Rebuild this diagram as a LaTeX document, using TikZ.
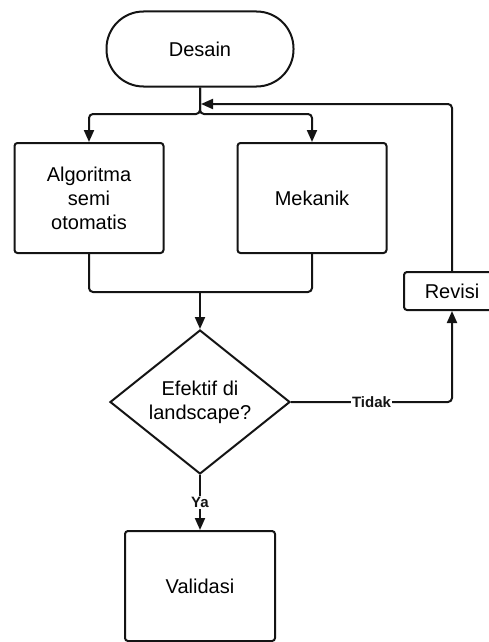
\documentclass[tikz,border=0pt]{standalone}
\usepackage{fontspec}
\setmainfont{Liberation Sans}
\usepackage{xcolor}
\usepackage{tikz}
\usetikzlibrary{arrows.meta,shapes.geometric}
\definecolor{garis}{RGB}{20,20,20}

\tikzset{
  kotak/.style={draw=garis, rounded corners=3pt, align=center, minimum width=149pt, minimum height=110pt, inner sep=2pt, font=\fontsize{20}{24}\selectfont},
  label/.style={fill=white, inner sep=1pt, font=\fontsize{15}{18}\selectfont\bfseries}
}

\begin{document}
\begin{tikzpicture}[x=1pt, y=-1pt, >={Triangle[length=12pt,width=10pt]}, line width=2pt]
    \useasboundingbox (0,0) rectangle (488,642);
    % mulai
    \node[draw=garis, rounded corners=37pt, minimum width=187pt, minimum height=75pt, font=\fontsize{20}{24}\selectfont] (desain) at (200,49){Desain};
    % dua cabang
    \node[kotak] (algoritma) at (89,198){Algoritma\\semi\\otomatis};
    \node[kotak] (mekanik) at (312,198){Mekanik};
    % keputusan
    \node[draw=garis, diamond, aspect=1.25, inner sep=0pt, minimum width=180pt, minimum height=144pt, align=center, font=\fontsize{20}{24}\selectfont] (cek) at (200,402){Efektif di\\landscape?};
    \node[kotak, minimum width=96pt, minimum height=38pt] (revisi) at (452,291){Revisi};
    \node[kotak, minimum width=150pt] (validasi) at (200,586){Validasi};
    % titik bantu
    \coordinate (pisah) at (200,114);
    \coordinate (gabung) at (200,292);
    \coordinate (balik) at (201,104);
    % garis penghubung
    \draw[garis,->,rounded corners=4pt] (desain.south) -- (pisah) -| (algoritma.north);
    \draw[garis,->,rounded corners=4pt] (desain.south) -- (pisah) -| (mekanik.north);
    \draw[garis,rounded corners=4pt] (algoritma.south) |- (gabung) -| (mekanik.south);
    \draw[garis,->] (gabung) -- (cek.north);
    \draw[garis,->,rounded corners=4pt] (cek.east) -| node[label,pos=0.25]{Tidak} (revisi.south);
    \draw[garis,->,rounded corners=4pt] (revisi.north) |- (balik);
    \draw[garis,->] (cek.south) -- node[label]{Ya} (validasi.north);
\end{tikzpicture}
\end{document}
